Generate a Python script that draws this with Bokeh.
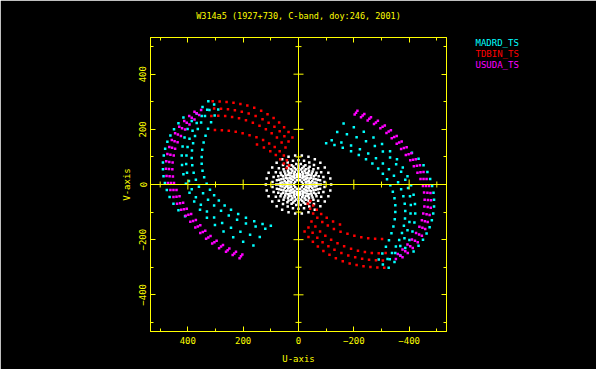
from bokeh.plotting import figure
from bokeh.models import Range1d, LinearAxis, FixedTicker, Span, Label
from bokeh.embed import file_html
from bokeh.resources import INLINE
import math

TITLE = "W314a5 (1927+730, C-band, doy:246, 2001)"
SERIES = ["MADRD_TS", "TDBIN_TS", "USUDA_TS"]
COLORS = ["#00ffff", "#ff0000", "#ff00ff"]
MAJOR_TICKS = [-400, -200, 0, 200, 400]
MINOR_TICKS = [-500, -300, -100, 100, 300, 500]
TICK_LABELS = {-400: "\u2212400", -200: "\u2212200", 0: "0", 200: "200", 400: "400"}

MADRD_A1 = [(100,-150),(130,-143),(160,-133),(190,-121),(218,-107),(244,-92),(267,-76),(288,-58),(305,-39),(320,-19),(332,3),(341,26),(347,50),(350,75),(350,100),(348,126),(343,152),(336,177),(327,202),(316,226),(303,250),(290,272)]
MADRD_A2 = [(120,-160),(155,-152),(190,-141),(222,-128),(252,-112),(280,-95),(305,-76),(327,-55),(345,-32),(360,-8),(371,17),(379,43),(384,70),(386,96),(385,123),(381,150),(374,176),(364,201),(352,225),(338,248),(322,270),(305,290)]
MADRD_B1 = [(140,-190),(175,-182),(210,-171),(244,-157),(276,-140),(305,-120),(331,-98),(353,-73),(371,-46),(386,-17),(396,13),(403,43),(406,74),(405,105),(401,136),(394,166),(383,195),(368,223),(350,248),(330,271)]
MADRD_B2 = [(163,-221),(200,-208),(236,-191),(271,-170),(302,-147),(331,-121),(356,-92),(377,-62),(394,-30),(407,3),(416,37),(421,71),(422,105),(419,138),(412,170),(401,201),(386,230),(368,257),(347,281),(326,302)]
MADRD_C = [(410,-115),(434,-93),(452,-70),(466,-45),(476,-20),(483,5),(488,30),(490,55),(490,80),(487,105),(482,130),(474,155),(463,178),(450,200),(434,222),(416,243)]

TDBIN_1 = [(310,302),(285,301),(260,299),(235,296),(210,292),(185,286),(160,278),(135,267),(112,255),(90,241),(70,225),(52,208),(36,190),(22,170)]
TDBIN_2 = [(305,276),(280,275),(255,273),(230,269),(205,264),(180,257),(155,248),(130,237),(108,224),(87,209),(68,193),(51,175),(36,156)]
TDBIN_3 = [(315,248),(290,249),(265,248),(240,245),(215,240),(190,233),(165,224),(141,213),(118,200),(97,186),(78,170),(61,152),(47,134)]
TDBIN_4 = [(302,198),(277,197),(252,195),(227,191),(202,186),(177,179),(152,171),(128,161),(106,149),(86,136),(68,121),(53,105),(42,88),(34,70)]
TDBIN_5 = [(150,145),(125,134),(102,121),(82,107),(66,92),(53,76),(43,60)]

USUDA_1 = [(203,-254),(226,-244),(250,-232),(273,-219),(296,-204),(318,-187),(337,-168),(355,-148),(371,-129),(388,-107),(404,-88),(417,-66),(430,-43),(441,-20),(450,5),(454,29),(456,55),(455,80),(451,105),(446,130),(437,153),(425,176),(410,199),(394,218),(376,236),(359,252)]
USUDA_2 = [(208,-260),(232,-250),(256,-238),(280,-225),(304,-209),(326,-192),(346,-172),(364,-152),(381,-132),(398,-110),(414,-90),(428,-68),(441,-44),(452,-20),(461,5),(466,30),(468,56),(467,82),(463,108),(457,133),(448,157),(436,181),(421,204),(404,224),(386,242),(368,258),(352,270)]
USUDA_3 = [(213,-267),(238,-256),(262,-244),(287,-231),(312,-214),(334,-197),(355,-176),(373,-156),(391,-135),(408,-113),(424,-92),(439,-70),(452,-45),(463,-20),(472,5),(477,31),(479,57),(478,84),(474,111),(467,136),(458,161),(446,186),(431,209),(413,230),(395,248),(376,264)]

OTHER_1 = [(118,0),(115,22),(108,43),(95,62),(79,79),(59,92),(36,101),(12,105),(-12,105),(-36,101),(-59,92),(-79,79),(-95,62),(-108,43),(-115,22)]
OTHER_2 = [(94,9),(90,27),(82,44),(71,59),(56,71),(39,80),(20,86),(0,88),(-20,86),(-39,80),(-56,71),(-71,59),(-82,44),(-90,27),(-94,9)]
OTHER_3 = [(80,0),(78,15),(73,30),(65,43),(54,55),(40,64),(25,70),(8,74),(-8,74),(-25,70),(-40,64),(-54,55),(-65,43),(-73,30),(-78,15)]
OTHER_4 = [(72,0),(70,17),(62,34),(51,47),(36,58),(19,65),(0,67),(-19,65),(-36,58),(-51,47),(-62,34),(-70,17)]
OTHER_5 = [(65,6),(62,19),(56,30),(48,40),(38,49),(26,55),(14,59),(0,60),(-14,59),(-26,55),(-38,49),(-48,40),(-56,30),(-62,19),(-65,6)]
OTHER_6 = [(58,7),(54,21),(46,33),(35,43),(22,50),(8,54),(-8,54),(-22,50),(-35,43),(-46,33),(-54,21),(-58,7)]
OTHER_7 = [(52,0),(50,12),(45,24),(37,34),(26,42),(13,46),(0,48),(-13,46),(-26,42),(-37,34),(-45,24),(-50,12)]
OTHER_8 = [(45,7),(40,22),(30,33),(16,40),(0,43),(-16,40),(-30,33),(-40,22),(-45,7)]
OTHER_9 = [(40,5),(37,14),(32,23),(24,29),(15,34),(5,37),(-5,37),(-15,34),(-24,29),(-32,23),(-37,14),(-40,5)]
OTHER_10 = [(34,0),(32,11),(26,21),(17,28),(6,32),(-6,32),(-17,28),(-26,21),(-32,11)]
OTHER_11 = [(28,0),(26,9),(21,17),(14,23),(5,26),(-5,26),(-14,23),(-21,17),(-26,9)]
OTHER_12 = [(16,3),(12,10),(5,15),(-5,15),(-12,10),(-16,3)]


def with_conjugates(arcs):
    u, v = [], []
    for arc in arcs:
        for a, b in arc:
            u += [a, -a]
            v += [b, -b]
    return u, v


FONT = "DejaVu Sans Mono"
YEL = "#ffff00"

p = figure(frame_width=296, frame_height=294,
           x_range=Range1d(535, -535), y_range=Range1d(-533, 533),
           output_backend="svg", toolbar_location=None,
           background_fill_color="black", border_fill_color="black",
           min_border_left=150, min_border_right=150,
           min_border_top=37, min_border_bottom=38)
p.grid.visible = False
p.outline_line_color = YEL
p.outline_line_width = 1


def style_axis(ax, labels=True):
    ax.ticker = FixedTicker(ticks=MAJOR_TICKS, minor_ticks=MINOR_TICKS)
    ax.axis_line_color = YEL
    ax.major_tick_line_color = YEL
    ax.minor_tick_line_color = YEL
    ax.major_tick_in = 5
    ax.major_tick_out = 0
    ax.minor_tick_in = 3
    ax.minor_tick_out = 0
    ax.major_label_text_color = YEL
    ax.major_label_text_font = FONT
    ax.major_label_text_font_size = "9px" if labels else "0px"
    ax.axis_label_text_color = YEL
    ax.axis_label_text_font = FONT
    ax.axis_label_text_font_size = "9px"
    ax.axis_label_text_font_style = "normal"
    ax.major_label_overrides = TICK_LABELS if labels else {t: "" for t in MAJOR_TICKS}
    if not labels:
        ax.major_label_standoff = 0


style_axis(p.xaxis[0])
style_axis(p.yaxis[0])
p.xaxis.axis_label = "U-axis"
p.yaxis.axis_label = "V-axis"
p.xaxis.major_label_standoff = 5
p.xaxis.axis_label_standoff = 7
p.yaxis.major_label_orientation = "vertical"
p.yaxis.major_label_standoff = 4
p.yaxis.axis_label_standoff = 5

top = LinearAxis()
style_axis(top, labels=False)
top.axis_label = TITLE
top.axis_label_text_font_size = "8.5px"
top.axis_label_standoff = 17
p.add_layout(top, "above")
right = LinearAxis()
style_axis(right, labels=False)
p.add_layout(right, "right")

# data
u, v = with_conjugates([OTHER_1, OTHER_2, OTHER_3, OTHER_4, OTHER_5, OTHER_6, OTHER_7, OTHER_8,
                        OTHER_9, OTHER_10, OTHER_11, OTHER_12])
p.scatter(u, v, marker="square", size=2.5, fill_color="white", line_color=None)
for arcs, col in [([MADRD_A1, MADRD_A2, MADRD_B1, MADRD_B2, MADRD_C], COLORS[0]),
                  ([TDBIN_1, TDBIN_2, TDBIN_3, TDBIN_4, TDBIN_5], COLORS[1]),
                  ([USUDA_1, USUDA_2, USUDA_3], COLORS[2])]:
    u, v = with_conjugates(arcs)
    p.scatter(u, v, marker="square", size=2.5, fill_color=col, line_color=None)

# zero lines with ticks
p.add_layout(Span(location=0, dimension="width", line_color=YEL, line_width=1))
p.add_layout(Span(location=0, dimension="height", line_color=YEL, line_width=1))
tk_major = [t for t in MAJOR_TICKS if t != 0]
p.scatter(tk_major, [0] * len(tk_major), marker="dash", size=10, angle=math.pi / 2, line_color=YEL, line_width=1)
p.scatter(MINOR_TICKS, [0] * len(MINOR_TICKS), marker="dash", size=6, angle=math.pi / 2, line_color=YEL, line_width=1)
p.scatter([0] * len(tk_major), tk_major, marker="dash", size=10, line_color=YEL, line_width=1)
p.scatter([0] * len(MINOR_TICKS), MINOR_TICKS, marker="dash", size=6, line_color=YEL, line_width=1)

# legend texts, coloured like the series, in the right-hand panel (canvas units, from the top)
for i, (name, col) in enumerate(zip(SERIES, COLORS)):
    p.add_layout(Label(x=475, y=42 + 11 * i, x_units="canvas", y_units="canvas", text=name,
                       text_align="left", text_baseline="middle",
                       text_color=col, text_font=FONT, text_font_size="9px"), "right")

open("out.html", "w").write(file_html(p, INLINE))
